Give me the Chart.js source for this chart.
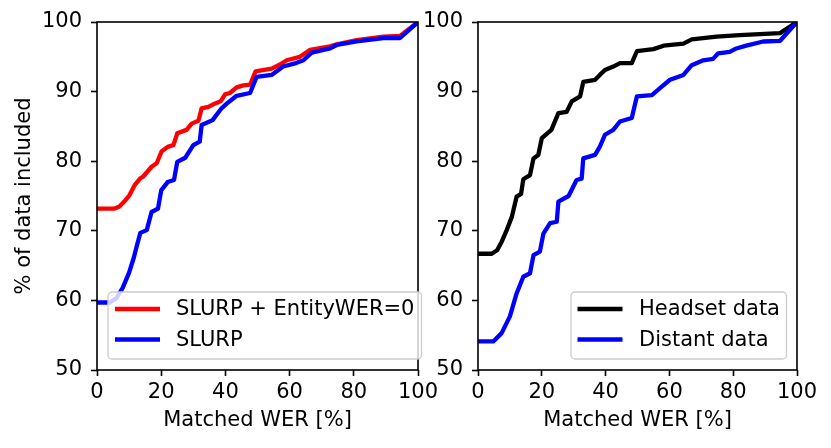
<!DOCTYPE html>
<html>
<head>
<meta charset="utf-8">
<script src="https://cdn.jsdelivr.net/npm/chart.js@4.4.1/dist/chart.umd.min.js"></script>
<style>
  html, body { margin: 0; padding: 0; background: #fff; }
  #wrap { position: relative; width: 831px; height: 448px; overflow: hidden; }
  canvas { position: absolute; top: 0; }
  #left { left: 0; }
  #right { left: 411px; }
</style>
</head>
<body>
<div id="wrap">
  <canvas id="left" width="460" height="448"></canvas>
  <canvas id="right" width="420" height="448"></canvas>
</div>
<script>
// ticks
var xTicks = [0, 20, 40, 60, 80, 100];
var yTicks = [50, 60, 70, 80, 90, 100];

// left panel: SLURP + EntityWER=0
var entX = [0, 5.5, 7, 8.5, 10.1, 11.8, 13.4, 14.4, 17, 18.6, 20.1, 22.2, 23.8, 25, 27.9, 29.5, 31.6, 32.6, 34.7, 36.8, 38.5, 39.9, 41.4, 43.5, 45.6, 47.7, 49.4, 54.4, 57, 59.1, 63.2, 66.4, 72.6, 74.7, 80.9, 89.2, 94.4, 100];
var entY = [73.2, 73.2, 73.5, 74.2, 75.1, 76.6, 77.5, 77.8, 79.2, 79.7, 81.4, 82.1, 82.3, 84, 84.5, 85.4, 85.8, 87.6, 87.8, 88.3, 88.6, 89.6, 89.8, 90.6, 90.9, 91, 92.9, 93.3, 93.9, 94.5, 95, 96, 96.5, 96.8, 97.4, 97.9, 98, 100];

// left panel: SLURP
var slurpX = [0, 4, 6, 8, 10, 11.5, 12.5, 13.5, 15.5, 17, 19, 20, 22, 24, 25, 27.5, 30, 32, 32.6, 36, 38.8, 40.5, 43.5, 47.7, 49.7, 54.4, 58, 62, 64.3, 66.9, 72.6, 74.7, 80.9, 89.2, 94.4, 100];
var slurpY = [59.7, 59.7, 60.3, 61.8, 64, 66.2, 68, 69.7, 70.1, 72.7, 73.2, 75.8, 77, 77.3, 79.9, 80.5, 82.3, 82.8, 85.2, 85.9, 87.6, 88.3, 89.4, 89.8, 92.1, 92.4, 93.6, 94.1, 94.5, 95.6, 96.2, 96.7, 97.2, 97.7, 97.7, 100];

// right panel: Headset data
var headX = [0, 4.3, 6, 7.4, 9, 10.6, 12.1, 13.5, 14.2, 16.3, 17.4, 18.9, 20, 23, 25.2, 27.8, 29.4, 32, 33, 36.7, 38.2, 39.8, 42.4, 44.5, 48.2, 49.8, 55, 58.2, 64.4, 67, 74.8, 82, 94.7, 100];
var headY = [66.7, 66.7, 67.2, 68.4, 70.1, 72, 74.9, 75.3, 77.4, 78, 80.4, 80.9, 83.3, 84.5, 86.9, 87.1, 88.6, 89.3, 91.4, 91.7, 92.4, 93.1, 93.6, 94.1, 94.1, 95.8, 96.1, 96.6, 96.9, 97.5, 97.9, 98.1, 98.4, 100];

// right panel: Distant data
var distX = [0, 4.8, 7.4, 10, 12.1, 14.2, 16.3, 17.4, 19.4, 20.5, 22.6, 24.7, 25.2, 28.4, 30.9, 32.5, 33, 36.7, 38.2, 39.8, 42.4, 44.5, 48.2, 49.8, 54.5, 57.6, 60.2, 64.4, 67, 70.6, 73.7, 75.3, 78.9, 81, 84.1, 89.4, 94.7, 100];
var distY = [54.1, 54.1, 55.3, 57.7, 61, 63.4, 63.9, 66.5, 67, 69.6, 71.1, 71.3, 74.2, 75, 77.3, 77.5, 80.4, 80.9, 82.1, 83.8, 84.5, 85.7, 86.2, 89.3, 89.5, 90.7, 91.7, 92.4, 93.8, 94.5, 94.7, 95.5, 95.7, 96.2, 96.6, 97.2, 97.3, 100];

var FONT = { family: "'DejaVu Sans', sans-serif", size: 21 };
var LW = 4.3;

function pts(xs, ys) {
  return xs.map(function (x, i) { return { x: x, y: ys[i] }; });
}

function lineSet(label, xs, ys, color, order) {
  return {
    label: label,
    data: pts(xs, ys),
    borderColor: color,
    backgroundColor: color,
    borderWidth: LW,
    borderJoinStyle: "round",
    pointRadius: 0,
    tension: 0,
    fill: false,
    order: order
  };
}

// frame + matplotlib style legend box drawn over the lines
var framePlugin = {
  id: "frame",
  afterDatasetsDraw: function (chart, args, opts) {
    var ctx = chart.ctx, a = chart.chartArea;
    ctx.save();
    ctx.strokeStyle = "#000";
    ctx.lineWidth = 1.6;
    ctx.strokeRect(a.left, a.top, a.right - a.left, a.bottom - a.top);

    var b = opts.box;
    var r = 4;
    ctx.beginPath();
    ctx.moveTo(b.x0 + r, b.y0);
    ctx.arcTo(b.x1, b.y0, b.x1, b.y1, r);
    ctx.arcTo(b.x1, b.y1, b.x0, b.y1, r);
    ctx.arcTo(b.x0, b.y1, b.x0, b.y0, r);
    ctx.arcTo(b.x0, b.y0, b.x1, b.y0, r);
    ctx.closePath();
    ctx.fillStyle = "rgba(255,255,255,0.8)";
    ctx.fill();
    ctx.strokeStyle = "#cccccc";
    ctx.lineWidth = 1.3;
    ctx.stroke();

    ctx.font = FONT.size + "px " + FONT.family;
    ctx.textBaseline = "middle";
    ctx.fillStyle = "#000";
    chart.data.datasets.forEach(function (ds, i) {
      var y = opts.rows[i];
      ctx.beginPath();
      ctx.moveTo(opts.sx0, y);
      ctx.lineTo(opts.sx1, y);
      ctx.strokeStyle = ds.borderColor;
      ctx.lineWidth = LW;
      ctx.stroke();
      ctx.fillText(ds.label, opts.tx, y + 1);
    });
    ctx.restore();
  }
};

function makeChart(id, datasets, yWidth, padRight, yTitle, legendOpts) {
  var ctx = document.getElementById(id).getContext("2d");
  return new Chart(ctx, {
    type: "line",
    data: { datasets: datasets },
    plugins: [framePlugin],
    options: {
      responsive: false,
      animation: false,
      devicePixelRatio: 1,
      layout: { padding: { top: 22, right: padRight, left: 0, bottom: 0 } },
      plugins: {
        legend: { display: false },
        tooltip: { enabled: false },
        frame: legendOpts
      },
      scales: {
        x: {
          type: "linear",
          min: 0,
          max: 100,
          afterBuildTicks: function (s) { s.ticks = xTicks.map(function (v) { return { value: v }; }); },
          afterFit: function (s) { s.height = 78; },
          grid: { drawOnChartArea: false, drawTicks: true, tickLength: 6, tickColor: "#000", tickWidth: 1.6 },
          border: { display: false },
          ticks: { color: "#000", font: FONT, padding: 4, maxRotation: 0, autoSkip: false },
          title: { display: true, text: "Matched WER [%]", color: "#000", font: FONT, padding: { top: 0, bottom: 14.5 } }
        },
        y: {
          type: "linear",
          min: 50,
          max: 100,
          afterBuildTicks: function (s) { s.ticks = yTicks.map(function (v) { return { value: v }; }); },
          afterFit: function (s) { s.width = yWidth; },
          grid: { drawOnChartArea: false, drawTicks: true, tickLength: 6, tickColor: "#000", tickWidth: 1.6 },
          border: { display: false },
          ticks: { color: "#000", font: FONT, padding: 9, autoSkip: false },
          title: { display: !!yTitle, text: yTitle || "", color: "#000", font: FONT, padding: { top: 11.5, bottom: 0 } }
        }
      }
    }
  });
}

makeChart("left", [
  lineSet("SLURP + EntityWER=0", entX, entY, "#ff0000", 2),
  lineSet("SLURP", slurpX, slurpY, "#0000ff", 1)
], 97, 42, "% of data included", {
  box: { x0: 108, y0: 292, x1: 421.5, y1: 359 },
  rows: [309, 339.5], sx0: 115, sx1: 160, tx: 176
});

makeChart("right", [
  lineSet("Headset data", headX, headY, "#000000", 2),
  lineSet("Distant data", distX, distY, "#0000ff", 1)
], 67, 34, null, {
  box: { x0: 160, y0: 292, x1: 375.5, y1: 359 },
  rows: [309, 339.5], sx0: 166.5, sx1: 211.5, tx: 228
});
</script>
</body>
</html>
